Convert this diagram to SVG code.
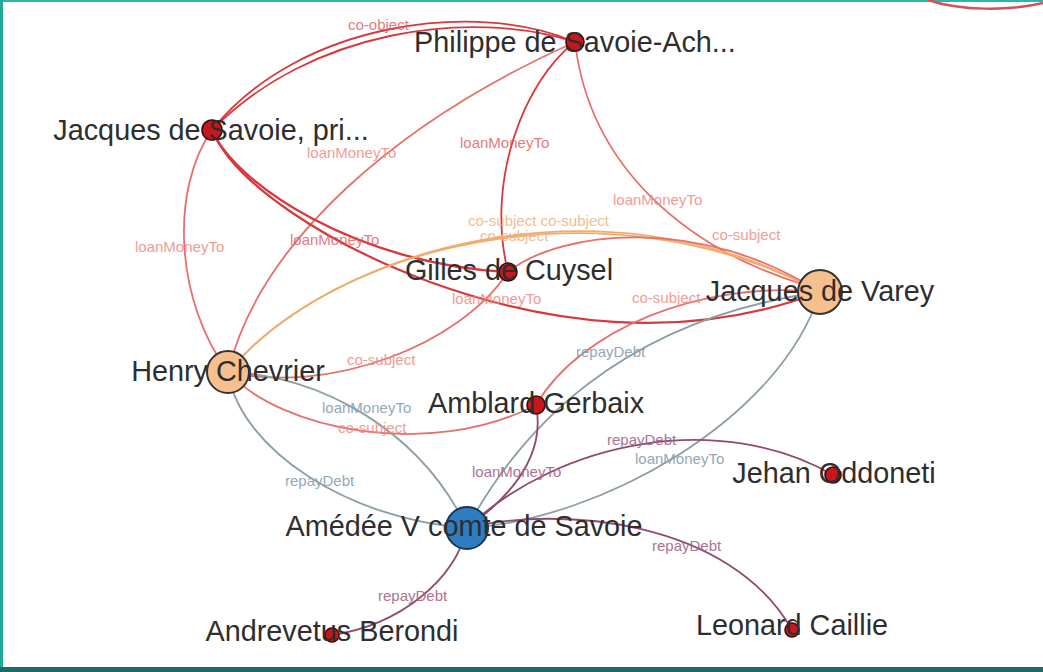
<svg xmlns="http://www.w3.org/2000/svg" width="1043" height="672" viewBox="0 0 1043 672">
<style>
.e{fill:none;stroke-width:1.8;stroke-linecap:round}
.red{stroke:#d8383d}
.sal{stroke:#e6706b}
.org{stroke:#f2ab6c}
.gry{stroke:#8d9fa6}
.pur{stroke:#8e4b6e}
.l{font-family:"Liberation Sans",Arial,Helvetica,sans-serif;font-size:15px}
.lr{fill:#e05a5e;opacity:.8}
.ls{fill:#ee8c84;opacity:.85}
.lo{fill:#f2b27e;opacity:.85}
.lg{fill:#8aa0ae;opacity:.9}
.lp{fill:#a3668a;opacity:.9}
.n{font-family:"Liberation Sans",Arial,Helvetica,sans-serif;font-size:28.8px;fill:#2e2e2e;text-anchor:middle}
.rn{fill:#c8161c;stroke:#3b0b0b;stroke-width:1.6}
.pn{fill:#f6c08e;stroke:#333;stroke-width:2}
.bn{fill:#2f7dc0;stroke:#1c3550;stroke-width:2}
</style>
<rect x="0" y="0" width="1043" height="672" fill="#ffffff"/>
<rect x="0" y="0" width="1043" height="2" fill="#2cb5a8"/>
<rect x="0" y="0" width="3" height="672" fill="#22a89c"/>
<rect x="0" y="667" width="1043" height="5" fill="#1b6b69"/>
<path d="M928,0 C960,11 1010,11 1043,3" fill="none" stroke="#d4505a" stroke-width="2.5"/>
<g id="connectors">
<path class="e red" d="M212,130 C300,20 480,0 575,42"/>
<path class="e red" d="M212,130 C310,30 470,8 575,42"/>
<path class="e sal" d="M212,130 C170,190 175,300 228,372"/>
<path class="e sal" d="M228,372 C260,240 400,120 575,42"/>
<path class="e red" style="stroke-width:2.4" d="M212,130 C235,185 360,265 508,272"/>
<path class="e red" style="stroke-width:2.2" d="M212,130 C235,185 330,245 430,282 C540,322 680,345 820,292"/>
<path class="e red" d="M575,42 C525,80 485,180 508,272"/>
<path class="e sal" d="M575,42 C590,170 690,250 805,285"/>
<path class="e org" d="M228,372 C330,250 600,170 820,292"/>
<path class="e org" d="M228,372 C340,240 610,180 820,292"/>
<path class="e sal" d="M508,272 C560,230 700,215 820,292"/>
<path class="e sal" d="M228,372 C330,395 460,345 508,272"/>
<path class="e sal" d="M228,372 C280,430 430,460 536,405"/>
<path class="e gry" d="M228,372 C320,375 420,430 467,528"/>
<path class="e gry" d="M228,372 C240,450 350,520 467,528"/>
<path class="e sal" d="M536,405 C580,330 700,280 820,292"/>
<path class="e gry" d="M467,528 C520,430 620,320 820,292"/>
<path class="e gry" d="M467,528 C600,520 780,420 820,292"/>
<path class="e pur" d="M536,405 C545,450 520,490 467,528"/>
<path class="e pur" d="M467,528 C560,440 720,410 833,475"/>
<path class="e pur" d="M467,528 C560,505 730,520 792,630"/>
<path class="e pur" d="M467,528 C455,580 400,625 332,635"/>
</g>
<g id="edge-labels">
<text class="l lr" x="348" y="30">co-object</text>
<text class="l ls" x="307" y="158">loanMoneyTo</text>
<text class="l lr" x="460" y="148">loanMoneyTo</text>
<text class="l ls" x="613" y="205">loanMoneyTo</text>
<text class="l ls" x="135" y="252">loanMoneyTo</text>
<text class="l lr" x="290" y="245">loanMoneyTo</text>
<text class="l lo" x="468" y="226">co-subject co-subject</text>
<text class="l lo" x="480" y="241">co-subject</text>
<text class="l ls" x="712" y="240">co-subject</text>
<text class="l ls" x="452" y="304">loanMoneyTo</text>
<text class="l ls" x="632" y="303">co-subject</text>
<text class="l ls" x="347" y="365">co-subject</text>
<text class="l lg" x="576" y="357">repayDebt</text>
<text class="l lg" x="322" y="413">loanMoneyTo</text>
<text class="l ls" x="338" y="433">co-subject</text>
<text class="l lp" x="607" y="445">repayDebt</text>
<text class="l lg" x="635" y="464">loanMoneyTo</text>
<text class="l lp" x="472" y="477">loanMoneyTo</text>
<text class="l lg" x="285" y="486">repayDebt</text>
<text class="l lp" x="652" y="551">repayDebt</text>
<text class="l lp" x="378" y="601">repayDebt</text>
</g>
<g id="node-philippe"><circle class="rn" cx="575" cy="42" r="9"/><text class="n" x="575" y="52">Philippe de Savoie-Ach...</text></g>
<g id="node-jacques-savoie"><circle class="rn" cx="212" cy="130" r="10"/><text class="n" x="211" y="140">Jacques de Savoie, pri...</text></g>
<g id="node-gilles"><circle class="rn" cx="508" cy="272" r="9"/><text class="n" x="509" y="280">Gilles de Cuysel</text></g>
<g id="node-jacques-varey"><circle class="pn" cx="820" cy="292" r="22"/><text class="n" x="820" y="301">Jacques de Varey</text></g>
<g id="node-henry"><circle class="pn" cx="228" cy="372" r="21"/><text class="n" x="228" y="381">Henry Chevrier</text></g>
<g id="node-amblard"><circle class="rn" cx="536" cy="405" r="9"/><text class="n" x="536" y="413">Amblard Gerbaix</text></g>
<g id="node-jehan"><circle class="rn" cx="833" cy="475" r="8"/><text class="n" x="834" y="483">Jehan Oddoneti</text></g>
<g id="node-amedee"><circle class="bn" cx="467" cy="528" r="21"/><text class="n" x="464" y="536">Amédée V comte de Savoie</text></g>
<g id="node-andrevetus"><circle class="rn" cx="332" cy="635" r="7"/><text class="n" x="332" y="641">Andrevetus Berondi</text></g>
<g id="node-leonard"><circle class="rn" cx="792" cy="630" r="7"/><text class="n" x="792" y="635">Leonard Caillie</text></g>
</svg>
